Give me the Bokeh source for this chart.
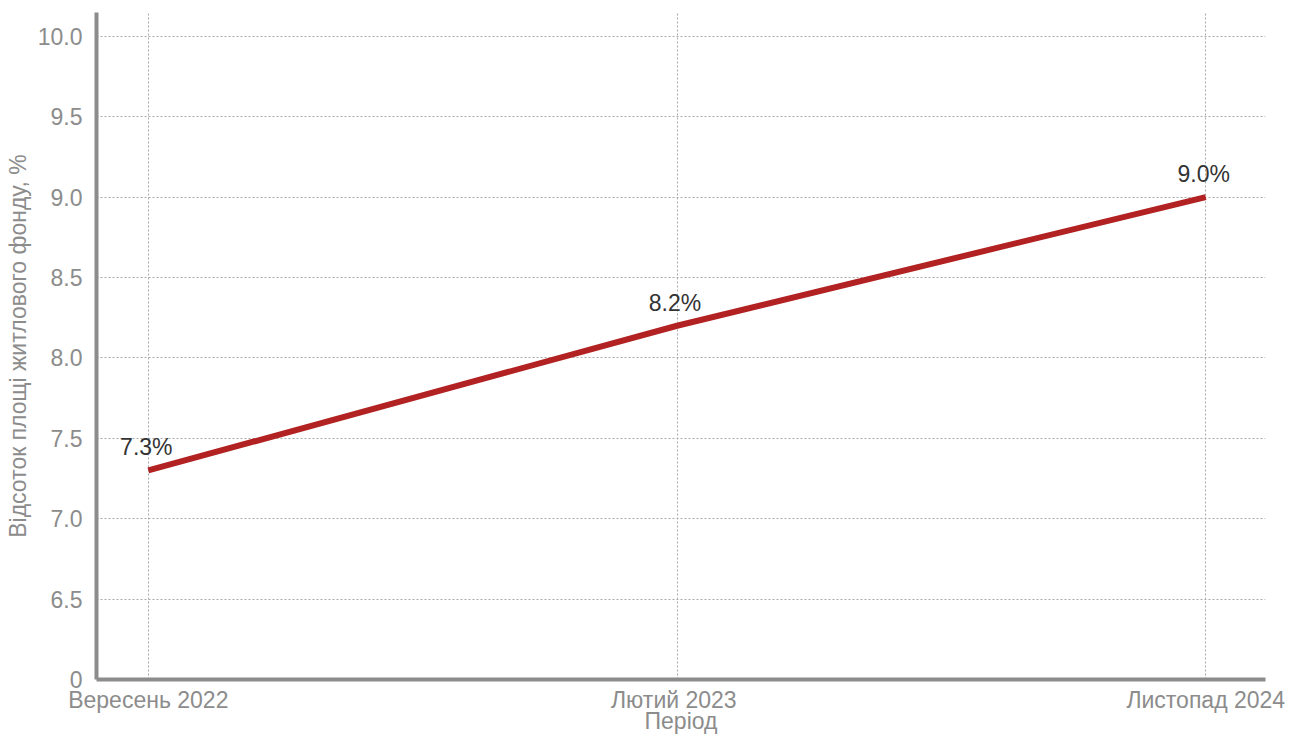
from bokeh.plotting import figure
from bokeh.models import Range1d, FixedTicker, ColumnDataSource
from bokeh.core.properties import value
from bokeh.embed import file_html
from bokeh.resources import INLINE

periods = ["Вересень 2022", "Лютий  2023", "Листопад 2024"]
shares = [7.3, 8.2, 9.0]
labels = ["7.3%", "8.2%", "9.0%"]
y_ticks = [6.0, 6.5, 7.0, 7.5, 8.0, 8.5, 9.0, 9.5, 10.0]
y_tick_labels = ["0", "6.5", "7.0", "7.5", "8.0", "8.5", "9.0", "9.5", "10.0"]
x_title = "Період"
y_title = "Відсоток площі житлового фонду, %"

xs = list(range(len(periods)))
src = ColumnDataSource(dict(x=xs, y=shares, lab=labels))

FONT = "Liberation Sans"
GREY = "#8c8c8c"

p = figure(width=1298, height=736, output_backend="svg", toolbar_location=None,
           x_range=Range1d(-0.098, 2.113), y_range=Range1d(6.0, 10.148))
p.min_border_left = 96
p.min_border_right = 33
p.min_border_top = 12
p.min_border_bottom = 57
p.outline_line_color = None
p.background_fill_color = "white"
p.border_fill_color = "white"

p.line("x", "y", source=src, line_color="#b22222", line_width=6)
p.text("x", "y", text="lab", source=src, text_align="center", text_baseline="bottom",
       y_offset=-10, x_offset=-2, text_font=value(FONT), text_font_size="23px",
       text_color="#333333")

p.xaxis.ticker = FixedTicker(ticks=xs)
p.xaxis.major_label_overrides = {i: s for i, s in enumerate(periods)}
p.yaxis.ticker = FixedTicker(ticks=y_ticks)
p.yaxis.major_label_overrides = {t: s for t, s in zip(y_ticks, y_tick_labels)}

for ax in (p.xaxis, p.yaxis):
    ax.axis_line_color = GREY
    ax.axis_line_width = 4
    ax.major_tick_line_color = None
    ax.minor_tick_line_color = None
    ax.major_label_text_font = FONT
    ax.major_label_text_font_size = "23px"
    ax.major_label_text_color = GREY
    ax.axis_label_text_font = FONT
    ax.axis_label_text_font_size = "23px"
    ax.axis_label_text_color = GREY
    ax.axis_label_text_font_style = "normal"

p.xaxis.axis_label = x_title
p.yaxis.axis_label = y_title
p.xaxis.major_tick_out = 0
p.xaxis.major_tick_in = 0
p.xaxis.major_label_standoff = 7
p.xaxis.axis_label_standoff = -8
p.yaxis.major_label_standoff = 8
p.yaxis.axis_label_standoff = 4

p.xgrid.grid_line_color = "#aaaaaa"
p.xgrid.grid_line_dash = "2 2"
p.xgrid.grid_line_width = 1
p.ygrid.grid_line_color = "#aaaaaa"
p.ygrid.grid_line_dash = "2 2"
p.ygrid.grid_line_width = 1

open("out.html", "w").write(file_html(p, INLINE))
